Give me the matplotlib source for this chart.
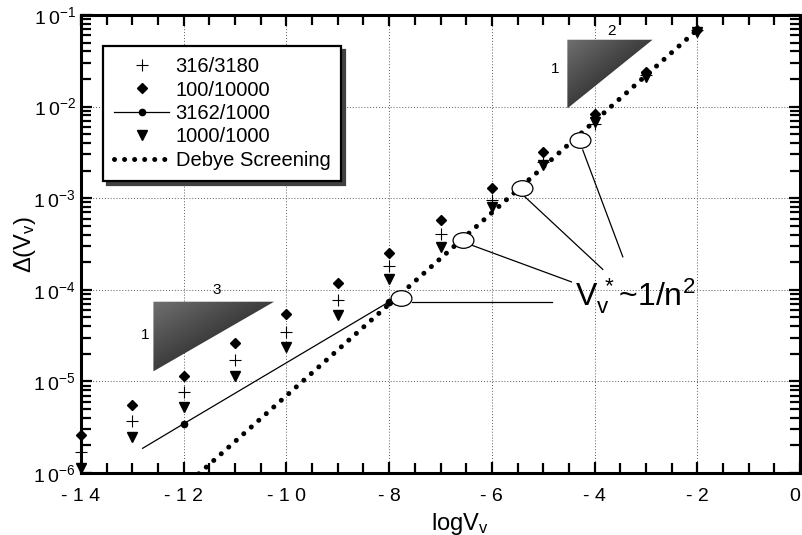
import numpy as np
import matplotlib
matplotlib.use('Agg')
from matplotlib import pyplot as plt
from matplotlib.path import Path
from matplotlib.patches import Polygon
from matplotlib.transforms import Affine2D

plt.rcParams['font.family'] = ['Liberation Sans', 'DejaVu Sans']
plt.rcParams['mathtext.fontset'] = 'custom'
plt.rcParams['mathtext.rm'] = 'Liberation Sans'

# data
logv = [-14, -13, -12, -11, -10, -9, -8, -7, -6, -5, -4, -3, -2]
d_316_3180 = [1.7e-6, 3.7e-6, 7.6e-6, 1.7e-5, 3.5e-5, 7.8e-5, 1.8e-4, 4.1e-4, 9.5e-4, 2.5e-3, 6.5e-3, 2.2e-2, 6.8e-2]
d_100_10000 = [2.6e-6, 5.5e-6, 1.15e-5, 2.6e-5, 5.5e-5, 1.18e-4, 2.5e-4, 5.8e-4, 1.29e-3, 3.2e-3, 8.3e-3, 2.4e-2, 6.9e-2]
d_1000_1000 = [1.13e-6, 2.5e-6, 5.2e-6, 1.15e-5, 2.4e-5, 5.3e-5, 1.3e-4, 2.9e-4, 8.1e-4, 2.3e-3, 6.8e-3, 2.1e-2, 6.6e-2]
logv_3162 = [-12.8, -12, -8]
d_3162_1000 = [1.86e-6, 3.45e-6, 7.4e-5]
logv_debye = [-12, -2]
d_debye = [7.0e-7, 6.9e-2]
logv_star = [-7.77, -6.57, -5.41, -4.29]
d_star = [8.1e-5, 3.5e-4, 1.3e-3, 4.3e-3]

xticks = [-14, -12, -10, -8, -6, -4, -2, 0]
xticklabels = ['- 1 4', '- 1 2', '- 1 0', '- 8', '- 6', '- 4', '- 2', '0']
yticks = [1e-6, 1e-5, 1e-4, 1e-3, 1e-2, 1e-1]
yticklabels = [r'$\mathregular{1\,0^{-%d}}$' % k for k in [6, 5, 4, 3, 2, 1]]

fig = plt.figure(figsize=(8.02, 5.35), dpi=100)
ax = fig.add_axes([81/802, 62/535, 719/802, 458/535])
ax.set_yscale('log')
ax.set_xlim(-14, 0)
ax.set_ylim(1e-6, 1e-1)

ax.plot(logv, d_316_3180, ls='none', marker='+', ms=8, mew=0.8, color='black', label='316/3180', clip_on=False, zorder=4)
ax.plot(logv, d_100_10000, ls='none', marker='D', ms=5.5, color='black', label='100/10000', clip_on=False, zorder=4)
ax.plot(logv_3162, d_3162_1000, ls='-', lw=0.9, marker='o', ms=4.5, markevery=[1, 2], color='black', label='3162/1000', zorder=4)
ax.plot(logv, d_1000_1000, ls='none', marker='v', ms=7, color='black', label='1000/1000', clip_on=False, zorder=4)
ax.plot(logv_debye, d_debye, ls=(0, (0.01, 2.0)), lw=3.6, dash_capstyle='round', color='black', label='Debye Screening', zorder=3)

# open ellipses marking V*
ell = Path.unit_circle().transformed(Affine2D().scale(1.0, 0.75))
ax.plot(logv_star, d_star, ls='none', marker=ell, ms=15, mfc='white', mec='black', mew=0.9, zorder=5)

# leader lines to the label
leaders = [((-7.55, 7.4e-5), (-4.82, 7.4e-5)),
           ((-6.40, 3.08e-4), (-4.45, 1.22e-4)),
           ((-5.36, 1.04e-3), (-3.84, 1.67e-4)),
           ((-4.23, 3.36e-3), (-3.45, 2.29e-4))]
for (x0, y0), (x1, y1) in leaders:
    ax.plot([x0, x1], [y0, y1], color='black', lw=0.9, zorder=4)
ax.text(-4.39, 6.8e-5, r'$\mathregular{V_v^{\,*}}$~1/n$\mathregular{^2}$', fontsize=23, ha='left', va='baseline', zorder=6)

# axes styling
ax.set_xticks(xticks)
ax.set_xticklabels(xticklabels)
ax.get_xticklabels()[-1].set_horizontalalignment('right')
ax.set_xticks(np.arange(-14, 0.01, 0.5), minor=True)
ax.set_yticks(yticks)
ax.set_yticklabels(yticklabels)
ax.tick_params(which='both', direction='in', top=True, right=True, width=1.6, color='black')
ax.tick_params(which='major', length=8, labelsize=14)
ax.tick_params(which='minor', length=7)
ax.tick_params(axis='x', which='major', pad=11)
ax.tick_params(axis='y', which='major', pad=4)
for s in ax.spines.values():
    s.set_linewidth(2.2)
ax.grid(True, which='major', ls=(0, (1, 2)), lw=0.7, color='0.35')
ax.set_xlabel(r'$\mathregular{logV_v}$', fontsize=17)
ax.xaxis.set_label_coords(0.527, -0.082)
ax.set_ylabel(r'$\mathregular{\Delta(V_v)}$', fontsize=17)
ax.yaxis.set_label_coords(-0.06, 0.5)

leg = ax.legend(loc='upper left', bbox_to_anchor=(103/802, 1 - 46/535), bbox_transform=fig.transFigure,
                borderaxespad=0, fontsize=14.5, handlelength=2.75, handletextpad=0.3, labelspacing=0.22,
                borderpad=0.55, fancybox=False, framealpha=1, edgecolor='black',
                shadow={'color': '0.25', 'alpha': 1, 'ox': 3, 'oy': -3})
leg.get_frame().set_linewidth(1.6)
leg.set_zorder(7)

# shaded slope triangles, drawn on a pixel overlay
over = fig.add_axes([0, 0, 1, 1])
over.set_xlim(0, 802)
over.set_ylim(0, 535)
over.axis('off')
over.set_zorder(2)
triangles = [[(-4.53, -1.27), (-2.87, -1.27), (-4.53, -2.02)],
             [(-12.59, -4.13), (-10.24, -4.13), (-12.59, -4.89)]]
for tri in triangles:
    pts = ax.transData.transform([(x, 10 ** y) for x, y in tri])
    x0, x1 = pts[:, 0].min(), pts[:, 0].max()
    y0, y1 = pts[:, 1].min(), pts[:, 1].max()
    gx, gy = np.meshgrid(np.linspace(0, 1, 200), np.linspace(0, 1, 200))
    # lighter at the right-angle corner (top-left), darker at the hypotenuse
    shade = np.clip(gx + (1 - gy), 0, 1)
    grey = 0.44 - 0.2 * shade
    img = over.imshow(grey, cmap='gray', vmin=0, vmax=1, extent=[x0, x1, y0, y1],
                      origin='lower', aspect='auto', interpolation='bilinear')
    poly = Polygon(pts, closed=True, transform=over.transData, facecolor='none', edgecolor='none')
    over.add_patch(poly)
    img.set_clip_path(poly)

for (x, y), s in zip([(-3.67, -1.18), (-4.77, -1.59), (-11.35, -4.0), (-12.76, -4.49)], ['2', '1', '3', '1']):
    ax.text(x, 10 ** y, s, fontsize=11, ha='center', va='center')

fig.savefig('out.png', dpi=100)
